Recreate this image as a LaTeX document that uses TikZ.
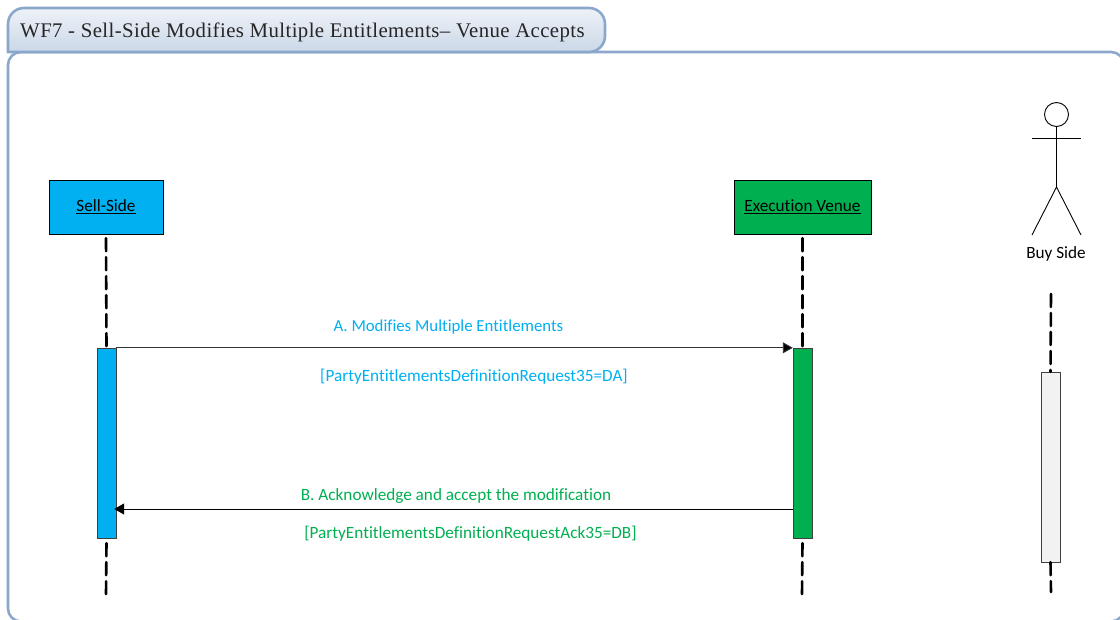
\documentclass[tikz,border=0pt]{standalone}
\usepackage{fontspec}
\setmainfont{Carlito}[Ligatures=NoCommon]
\newfontfamily\titlefont{Liberation Serif}
\usetikzlibrary{arrows.meta}
\definecolor{framecol}{RGB}{139,168,204}
\definecolor{selluse}{RGB}{0,176,240}
\definecolor{venueuse}{RGB}{0,176,80}
\begin{document}
\begin{tikzpicture}[x=1pt, y=-1pt]
  \tikzstyle{party}=[draw=black, minimum height=54pt, inner sep=0pt, font=\fontsize{17.2}{20}\selectfont]
  \tikzstyle{bar}=[draw=black!75, minimum width=19pt, minimum height=190pt, inner sep=0pt]
  \tikzstyle{lifeline}=[line width=2.6pt, dash pattern=on 13pt off 6pt, line cap=round]
  \tikzstyle{msg}=[line width=0.9pt, black!80, -{Triangle[length=10pt,width=11pt,fill=black]}]
  \tikzstyle{label}=[inner sep=0pt, font=\fontsize{17.2}{20}\selectfont]
  \clip (0,0) rectangle (1120,620);
  \fill[white] (0,0) rectangle (1120,620);
% frame and tab
  \draw[framecol, line width=2.6pt, rounded corners=13pt] (8,621.5) rectangle (1124,52);
  \draw[framecol, line width=2.6pt, top color=framecol!15, bottom color=framecol!45, rounded corners=16pt]
    (8,52) -- (8,8) -- (605,8) -- (605,52) [sharp corners] -- cycle;
  \node[anchor=west, inner sep=0pt, font=\titlefont\fontsize{20.8}{24}\selectfont, text=black!85] (title) at (20,32)
    {\addfontfeature{LetterSpace=2}WF7 - Sell-Side Modifies Multiple Entitlements– Venue Accepts};
% parties
  \node[party, fill=selluse, minimum width=114pt] (sellside) at (106,207) {\underline{Sell-Side}};
  \node[party, fill=venueuse, minimum width=137pt] (venue) at (802.5,207) {\underline{Execution Venue}};
  \node[bar, fill=selluse] (sellbar) at (106.5,443) {};
  \node[bar, fill=venueuse] (venuebar) at (802.5,443) {};
  \node[bar, fill=black!5] (buybar) at (1050.5,467) {};
% buy side actor
  \node[circle, draw, line width=0.9pt, minimum size=24pt, inner sep=0pt] (head) at (1056.5,114.5) {};
  \coordinate (hip) at (1056.5,187);
  \coordinate (armL) at (1032,138);
  \coordinate (armR) at (1081,138);
  \coordinate (legL) at (1032,235);
  \coordinate (legR) at (1081,235);
  \draw[line width=0.9pt] (head.south) -- (hip);
  \draw[line width=0.9pt] (armL) -- (armR);
  \draw[line width=0.9pt] (legL) -- (hip) -- (legR);
  \node[label] (buyside) at (1056,254) {Buy Side};
% lifelines
  \coordinate (sellend) at (106,594);
  \coordinate (venueend) at (802,594);
  \coordinate (buystart) at (1051,294);
  \coordinate (buyend) at (1051,592);
  \draw[lifeline] ([yshift=-4pt]sellside.south) -- (sellbar.north);
  \draw[lifeline] ([yshift=-5pt]sellbar.south) -- (sellend);
  \draw[lifeline] ([yshift=-4pt]venue.south -| venuebar.north) -- (venuebar.north);
  \draw[lifeline] ([yshift=-5pt]venuebar.south) -- (venueend);
  \draw[lifeline] (buystart) -- (buybar.north);
  \draw[lifeline] (buybar.south) -- (buyend);
% messages
  \coordinate (ackrow) at (455,509);
  \draw[msg] (sellbar.north east) -- (venuebar.north west);
  \draw[msg, black, shorten >=-2pt] (ackrow -| venuebar.west) -- (ackrow -| sellbar.east);
  \node[label, font=\fontsize{16.8}{20}\selectfont, text=selluse] (msga) at (448.5,327) {A. Modifies Multiple Entitlements};
  \node[label, text=selluse] (tagA) at (474,377) {[PartyEntitlementsDefinitionRequest35=DA]};
  \node[label, text=venueuse] (msgb) at (456,496) {B. Acknowledge and accept the modification};
  \node[label, text=venueuse] (tagB) at (470.5,534) {[PartyEntitlementsDefinitionRequestAck35=DB]};
\end{tikzpicture}
\end{document}
